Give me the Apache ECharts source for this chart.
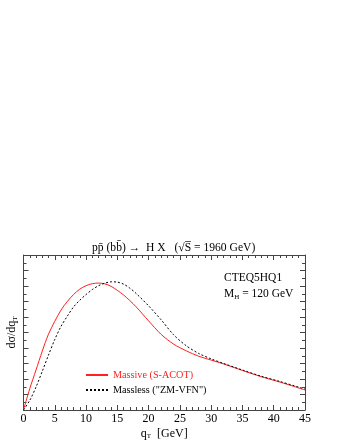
<!DOCTYPE html>
<html>
<head>
<meta charset="utf-8">
<script src="https://cdn.jsdelivr.net/npm/echarts@6/dist/echarts.min.js"></script>
<style>
  html, body { margin: 0; padding: 0; background: #fff; }
  #container { width: 340px; height: 440px; }
</style>
</head>
<body>
<div id="container"></div>
<script>
// qT grid (GeV) and the two curves (arbitrary units, axis 0..10)
var qT = [0, 1, 2, 3, 4, 5, 6, 7, 8, 9, 10, 11, 12, 13, 14, 15, 16, 17, 18, 20, 22, 24, 26, 28, 30, 32, 35, 38, 41, 45];
var massive = [0, 1.38, 2.58, 3.8, 4.9, 5.72, 6.45, 7.0, 7.45, 7.8, 8.02, 8.15, 8.19, 8.14, 7.98, 7.72, 7.42, 7.06, 6.66, 5.75, 4.88, 4.25, 3.82, 3.47, 3.22, 2.97, 2.55, 2.15, 1.8, 1.29];
var massless = [0, 0.62, 1.48, 2.5, 3.55, 4.55, 5.4, 6.05, 6.65, 7.08, 7.45, 7.77, 8.02, 8.18, 8.27, 8.25, 8.12, 7.86, 7.52, 6.72, 5.82, 4.85, 4.15, 3.65, 3.3, 3.0, 2.58, 2.18, 1.84, 1.35];
var xTicks = [0, 5, 10, 15, 20, 25, 30, 35, 40, 45];

var serif = '"Liberation Serif", "DejaVu Serif", serif';
var frame = '#444';

function pairs(ys) {
    var out = [];
    for (var i = 0; i < qT.length; i++) out.push([qT[i], ys[i]]);
    return out;
}

var myChart = echarts.init(document.getElementById('container'));

// frame axes: ticks pointing inward, no grid lines
function frameAxis(extra) {
    var base = {
        type: 'value',
        axisLine: { show: true, onZero: false, lineStyle: { color: frame, width: 1 } },
        axisTick: { show: true, inside: true, length: 5, lineStyle: { color: frame, width: 1 } },
        minorTick: { show: true, length: 3, lineStyle: { color: frame, width: 1 } },
        splitLine: { show: false },
        minorSplitLine: { show: false }
    };
    return echarts.util.merge(base, extra, true);
}

var subRich = {
    a: { fontFamily: serif, fontSize: 12, color: '#000' },
    b: { fontFamily: serif, fontSize: 7, color: '#000', padding: [6, 0, 0, 0] }
};

var option = {
    animation: false,
    title: {
        text: 'pp\u0304 (bb\u0304) \u2192  H X   (\u221AS\u0305 = 1960 GeV)',
        left: 87,
        top: 237,
        textStyle: { fontFamily: serif, fontSize: 11.6, fontWeight: 'normal', color: '#000' }
    },
    grid: { left: 23.5, right: 35, top: 255, bottom: 30, containLabel: false, outerBoundsMode: 'none' },
    legend: {
        orient: 'vertical',
        left: 80,
        top: 365,
        itemWidth: 22,
        itemHeight: 8,
        itemGap: 5,
        itemStyle: { opacity: 0 },
        textStyle: { fontFamily: serif, fontSize: 10.2 },
        data: [
            { name: 'Massive (S-ACOT)', textStyle: { color: '#ff2020' } },
            { name: 'Massless ("ZM-VFN")', textStyle: { color: '#000' } }
        ]
    },
    xAxis: [
        frameAxis({
            position: 'bottom',
            min: 0,
            max: 45,
            interval: 5,
            minorTick: { splitNumber: 5 },
            axisLabel: { margin: 3, fontFamily: serif, fontSize: 12, color: '#000', customValues: xTicks },
            name: '{a|q}{b|T}  [GeV]',
            nameLocation: 'middle',
            nameGap: 17,
            nameTextStyle: { fontFamily: serif, color: '#000', rich: subRich }
        }),
        frameAxis({
            position: 'top',
            min: 0,
            max: 45,
            interval: 5,
            minorTick: { splitNumber: 5 },
            axisLabel: { show: false }
        })
    ],
    yAxis: [
        frameAxis({
            position: 'left',
            min: 0,
            max: 10,
            interval: 1,
            minorTick: { splitNumber: 2 },
            axisLabel: { show: false },
            name: '{a|d\u03C3/dq}{b|T}',
            nameLocation: 'middle',
            nameRotate: 90,
            nameGap: 5,
            nameTextStyle: { fontFamily: serif, color: '#000', rich: subRich }
        }),
        frameAxis({
            position: 'right',
            min: 0,
            max: 10,
            interval: 1,
            minorTick: { splitNumber: 2 },
            axisLabel: { show: false }
        })
    ],
    graphic: [
        {
            type: 'text',
            left: 224,
            top: 272,
            style: { text: 'CTEQ5HQ1', fontFamily: serif, fontSize: 11.5, fill: '#000' }
        },
        {
            type: 'text',
            left: 224,
            top: 288,
            style: {
                text: '{a|M}{b|H}{a| = 120 GeV}',
                rich: {
                    a: { fontFamily: serif, fontSize: 11.5, fill: '#000' },
                    b: { fontFamily: serif, fontSize: 7, fill: '#000', padding: [6, 0, 0, 0] }
                }
            }
        }
    ],
    series: [
        {
            name: 'Massive (S-ACOT)',
            type: 'line',
            smooth: 0.3,
            symbol: 'none',
            data: pairs(massive),
            lineStyle: { color: '#ff2020', width: 1 },
            itemStyle: { color: '#ff2020' }
        },
        {
            name: 'Massless ("ZM-VFN")',
            type: 'line',
            smooth: 0.3,
            symbol: 'none',
            data: pairs(massless),
            lineStyle: { color: '#000', width: 1, type: [2, 2] },
            itemStyle: { color: '#000' }
        }
    ]
};
myChart.setOption(option);
</script>
</body>
</html>
